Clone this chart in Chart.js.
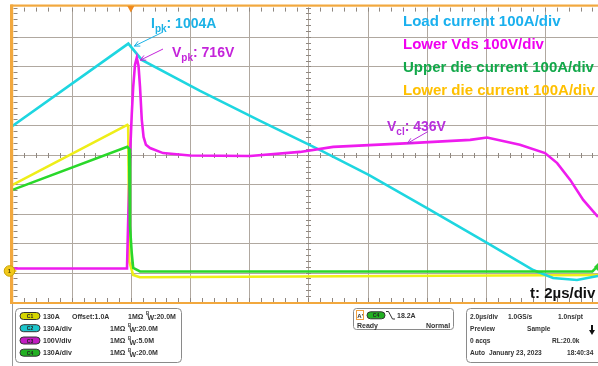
<!DOCTYPE html>
<html><head><meta charset="utf-8">
<script src="https://cdn.jsdelivr.net/npm/chart.js@4.4.0/dist/chart.umd.min.js"></script>
<style>html,body{margin:0;padding:0;background:#fff}canvas{display:block}</style>
</head><body>
<canvas id="c" width="598" height="366"></canvas>
<script>
// ---- Data (time in µs, currents in A, voltage in V) ----
const loadT  = [-4, -0.085, 0.37, 2.34, 4.37, 6.40, 8.04, 10.01, 12.04, 13.60, 14.27, 15.08, 15.79];
const loadI  = [640, 1004, 932, 795, 663, 534, 424, 278, 124, 4, -31, -40, -22];

const vdsT   = [-4, -0.13, -0.09, -0.02, 0.03, 0.08, 0.14, 0.20, 0.26, 0.31, 0.37, 0.43, 0.51, 0.65, 1.09, 2.0, 4.03, 5.72, 6.84, 9.44, 11.47, 12.04, 13.15, 14.0, 14.41, 14.85, 15.29, 15.79];
const vdsV   = [0, 0, 165, 403, 522, 617, 692, 716, 688, 617, 505, 447, 420, 409, 392, 384, 382, 396, 413, 426, 437, 445, 420, 392, 358, 301, 233, 175];

const upperT = [-4, -0.12, -0.06, -0.03, 0.03, 0.08, 0.31, 15.6, 15.79];
const upperI = [358, 548, 540, 200, 80, 13, -2, -2, 22];

const lowerT = [-4, -0.12, -0.09, -0.05, 0.08, 0.30, 15.79];
const lowerI = [380, 645, 640, 40, -18, -28, -18];

const seriesLabels = ['Load current 100A/div', 'Lower Vds 100V/div', 'Upper die current 100A/div', 'Lower die current 100A/div'];
const peakLabels = {ipk: '1004A', vpk: '716V', vcl: '436V'};
const timeBaseLabel = 't: 2µs/div';

const xTicks = [-4, -2, 0, 2, 4, 6, 8, 10, 12, 14, 16];
const iMin = -137, iPerDiv = 130;
const vMin = -113.8, vPerDiv = 100;

const pts = (t, v) => t.map((x, i) => ({x, y: v[i]}));

const FONT = '"Liberation Sans", Arial, sans-serif';
const ORANGE = '#F2A83E';
const GRID = '#B0A8A0';

function arrow(ctx, x1, y1, x2, y2, col) {
  ctx.save();
  ctx.strokeStyle = col; ctx.fillStyle = col; ctx.lineWidth = 1;
  ctx.beginPath(); ctx.moveTo(x1, y1); ctx.lineTo(x2, y2); ctx.stroke();
  const a = Math.atan2(y2 - y1, x2 - x1), L = 6, w = 0.45;
  ctx.beginPath();
  ctx.moveTo(x2, y2);
  ctx.lineTo(x2 - L * Math.cos(a - w), y2 - L * Math.sin(a - w));
  ctx.moveTo(x2, y2);
  ctx.lineTo(x2 - L * Math.cos(a + w), y2 - L * Math.sin(a + w));
  ctx.stroke();
  ctx.restore();
}

function subText(ctx, x, y, main, sub, rest, col, size) {
  ctx.save();
  ctx.fillStyle = col; ctx.textBaseline = 'alphabetic'; ctx.textAlign = 'left';
  ctx.font = 'bold ' + size + 'px ' + FONT;
  ctx.fillText(main, x, y);
  let w = ctx.measureText(main).width;
  ctx.font = 'bold ' + Math.round(size * 0.68) + 'px ' + FONT;
  ctx.fillText(sub, x + w, y + 4);
  w += ctx.measureText(sub).width;
  ctx.font = 'bold ' + size + 'px ' + FONT;
  ctx.fillText(rest, x + w, y);
  ctx.restore();
}

function rrect(ctx, x, y, w, h, r, stroke, fill) {
  ctx.beginPath();
  ctx.moveTo(x + r, y); ctx.lineTo(x + w - r, y); ctx.arcTo(x + w, y, x + w, y + r, r);
  ctx.lineTo(x + w, y + h - r); ctx.arcTo(x + w, y + h, x + w - r, y + h, r);
  ctx.lineTo(x + r, y + h); ctx.arcTo(x, y + h, x, y + h - r, r);
  ctx.lineTo(x, y + r); ctx.arcTo(x, y, x + r, y, r);
  ctx.closePath();
  if (fill) { ctx.fillStyle = fill; ctx.fill(); }
  if (stroke) { ctx.strokeStyle = stroke; ctx.lineWidth = 1; ctx.stroke(); }
}

function pill(ctx, x, cy, w, h, fill, label) {
  rrect(ctx, x, cy - h / 2, w, h, h / 2, '#333', fill);
  ctx.fillStyle = '#222'; ctx.font = 'bold 5px ' + FONT; ctx.textAlign = 'center';
  ctx.fillText(label, x + w / 2, cy + 2);
  ctx.textAlign = 'left';
}

const SMALL = 'bold 7px ' + FONT;
function bwText(ctx, x, y, val) {
  ctx.font = 'bold 4.5px ' + FONT; ctx.fillText('B', x, y - 3.5);
  ctx.font = SMALL; ctx.fillText('W', x + 1.5, y + 1.5);
  const w = ctx.measureText('W').width;
  ctx.fillText(':' + val, x + 1.5 + w, y);
}

const gratPlugin = {
  id: 'grat',
  beforeDatasetsDraw(chart) {
    const {ctx, chartArea: a} = chart;
    const xs = chart.scales.x, ys = chart.scales.yI;
    ctx.save();
    ctx.strokeStyle = GRID; ctx.lineWidth = 1;
    xTicks.forEach(t => {
      const px = Math.round(xs.getPixelForValue(t)) + 0.5;
      if (px > a.left + 2 && px < a.right) { ctx.beginPath(); ctx.moveTo(px, a.top); ctx.lineTo(px, a.bottom); ctx.stroke(); }
    });
    for (let k = 1; k < 10; k++) {
      const py = Math.round(ys.getPixelForValue(iMin + k * iPerDiv)) + 0.5;
      ctx.beginPath(); ctx.moveTo(a.left, py); ctx.lineTo(a.right, py); ctx.stroke();
    }
    // minor ticks on centre lines and borders
    ctx.strokeStyle = '#8F8780';
    const cy = Math.round(ys.getPixelForValue(iMin + 5 * iPerDiv)) + 0.5;
    const cx = Math.round(xs.getPixelForValue(6)) + 0.5;
    for (let t = -4; t <= 16; t += 0.4) {
      const px = Math.round(xs.getPixelForValue(t)) + 0.5;
      if (px <= a.left + 2 || px > a.right) continue;
      ctx.beginPath(); ctx.moveTo(px, cy - 2.5); ctx.lineTo(px, cy + 2.5); ctx.stroke();
      ctx.beginPath(); ctx.moveTo(px, a.top); ctx.lineTo(px, a.top + 4); ctx.stroke();
      ctx.beginPath(); ctx.moveTo(px, a.bottom - 4); ctx.lineTo(px, a.bottom); ctx.stroke();
    }
    for (let k = 0; k <= 50; k++) {
      const py = Math.round(ys.getPixelForValue(iMin + k * iPerDiv / 5)) + 0.5;
      ctx.beginPath(); ctx.moveTo(cx - 2.5, py); ctx.lineTo(cx + 2.5, py); ctx.stroke();
      ctx.beginPath(); ctx.moveTo(a.left + 1, py); ctx.lineTo(a.left + 5, py); ctx.stroke();
    }
    ctx.restore();
  },
  afterDatasetsDraw(chart) {
    const {ctx, chartArea: a} = chart;
    const xs = chart.scales.x, yI = chart.scales.yI, yV = chart.scales.yV;
    ctx.save();
    // borders
    ctx.fillStyle = ORANGE;
    ctx.fillRect(a.left - 2, 4.5, a.right - a.left + 2, 2.2);
    ctx.fillRect(a.left - 2, a.bottom, a.right - a.left + 2, 2);
    ctx.fillRect(a.left - 2.5, 4.5, 3.2, a.bottom - 2.5);
    ctx.strokeStyle = '#9A9A9A'; ctx.lineWidth = 1;
    ctx.beginPath(); ctx.moveTo(12.5, a.bottom + 2); ctx.lineTo(12.5, 366); ctx.stroke();
    // trigger position marker
    const tx = xs.getPixelForValue(0);
    ctx.fillStyle = '#F08A1E';
    ctx.beginPath(); ctx.moveTo(tx - 3.5, 6); ctx.lineTo(tx + 3.5, 6); ctx.lineTo(tx, 12.5); ctx.closePath(); ctx.fill();
    // channel 1 ground marker
    const gy = yI.getPixelForValue(0);
    ctx.fillStyle = '#F2C81A'; ctx.strokeStyle = '#C9A400';
    ctx.beginPath(); ctx.moveTo(13, gy - 2.5); ctx.lineTo(17, gy); ctx.lineTo(13, gy + 2.5); ctx.closePath(); ctx.fill();
    ctx.beginPath(); ctx.arc(9.5, gy, 5.3, 0, Math.PI * 2); ctx.fill(); ctx.stroke();
    ctx.fillStyle = '#5A4A00'; ctx.font = 'bold 6px ' + FONT; ctx.textAlign = 'center';
    ctx.fillText('1', 9.5, gy + 2.2); ctx.textAlign = 'left';
    // C4 trigger level marker at right edge
    ctx.fillStyle = '#2ECC2E';
    ctx.beginPath(); ctx.moveTo(598, gy - 8); ctx.lineTo(594, gy - 4); ctx.lineTo(598, gy); ctx.closePath(); ctx.fill();

    // annotations
    const pkX = xs.getPixelForValue(loadT[1]), pkY = yI.getPixelForValue(loadI[1]);
    subText(ctx, 151, 28, 'I', 'pk', ': ' + peakLabels.ipk, '#1CB2E6', 14);
    arrow(ctx, 163, 32, pkX + 6, pkY + 2.5, '#1CB2E6');
    const vpX = xs.getPixelForValue(vdsT[7]), vpY = yV.getPixelForValue(vdsV[7]);
    subText(ctx, 172, 56.5, 'V', 'pk', ': ' + peakLabels.vpk, '#C424DA', 14);
    arrow(ctx, 163, 49, vpX + 3.5, vpY + 2.5, '#C424DA');
    subText(ctx, 387, 131, 'V', 'cl', ': ' + peakLabels.vcl, '#B830DC', 14);
    arrow(ctx, 428, 131.5, xs.getPixelForValue(9.35), yV.getPixelForValue(427) + 0.5, '#B830DC');

    // legend text
    const legCols = ['#1AB0EE', '#F000F0', '#12A84A', '#FFC000'];
    const legY = [26, 49, 71.5, 95];
    ctx.font = 'bold 15px ' + FONT;
    seriesLabels.forEach((s, i) => { ctx.fillStyle = legCols[i]; ctx.fillText(s, 403, legY[i]); });
    ctx.fillStyle = '#111';
    ctx.fillText(timeBaseLabel, 530, 298);

    // ---- status panel ----
    ctx.font = SMALL; ctx.fillStyle = '#333';
    rrect(ctx, 15.5, 308.5, 166, 54, 4, '#8A8A8A', null);
    const rows = [316, 328.2, 340.5, 352.7];
    const pc = ['#D6D600', '#1CC6CC', '#C21CC2', '#22B022'];
    const cl = ['C1', 'C2', 'C3', 'C4'];
    const chTxt = ['130A', '130A/div', '100V/div', '130A/div'];
    const bw = ['20.0M', '20.0M', '5.0M', '20.0M'];
    rows.forEach((ry, i) => {
      pill(ctx, 20, ry, 20, 7, pc[i], cl[i]);
      ctx.fillStyle = '#333'; ctx.font = SMALL;
      ctx.fillText(chTxt[i], 43, ry + 2.5);
      const mx = i === 0 ? 128 : 110;
      ctx.fillText('1MΩ', mx, ry + 2.5);
      bwText(ctx, mx + 18, ry + 2.5, bw[i]);
    });
    ctx.font = SMALL;
    ctx.fillText('Offset:1.0A', 72, rows[0] + 2.5);

    rrect(ctx, 353.5, 308.5, 100, 21, 3, '#8A8A8A', null);
    ctx.strokeStyle = '#F0A040'; ctx.strokeRect(356.5, 310.5, 7, 9);
    ctx.fillStyle = '#333'; ctx.font = 'bold 6px ' + FONT; ctx.fillText("A'", 357.3, 317.5);
    pill(ctx, 367, 315.3, 18, 7, '#22B022', 'C4');
    ctx.strokeStyle = '#333'; ctx.lineWidth = 1;
    ctx.beginPath(); ctx.moveTo(386, 311.5); ctx.lineTo(388.5, 311.5); ctx.lineTo(392.5, 319); ctx.lineTo(395, 319); ctx.stroke();
    ctx.fillStyle = '#333'; ctx.font = SMALL;
    ctx.fillText('18.2A', 397, 318);
    ctx.fillText('Ready', 357, 327.5);
    ctx.fillText('Normal', 426, 327.5);

    rrect(ctx, 466.5, 308.5, 150, 54, 4, '#8A8A8A', null);
    const rr = [318.5, 330.7, 343, 355.3];
    ctx.fillStyle = '#333'; ctx.font = 'bold 6.6px ' + FONT;
    ctx.fillText('2.0µs/div', 470, rr[0]); ctx.fillText('1.0GS/s', 508, rr[0]); ctx.fillText('1.0ns/pt', 558, rr[0]);
    ctx.fillText('Preview', 470, rr[1]); ctx.fillText('Sample', 527, rr[1]);
    ctx.fillText('0 acqs', 470, rr[2]); ctx.fillText('RL:20.0k', 552, rr[2]);
    ctx.fillText('Auto', 470, rr[3]); ctx.fillText('January 23, 2023', 489, rr[3]); ctx.fillText('18:40:34', 567, rr[3]);
    // down arrow
    ctx.fillStyle = '#111';
    ctx.fillRect(591, 325, 2, 6);
    ctx.beginPath(); ctx.moveTo(589, 330); ctx.lineTo(595, 330); ctx.lineTo(592, 335); ctx.closePath(); ctx.fill();
    ctx.restore();
  }
};

new Chart(document.getElementById('c'), {
  type: 'scatter',
  data: {
    datasets: [
      {label: seriesLabels[2], data: pts(upperT, upperI), yAxisID: 'yI', borderColor: '#2AD82A', order: 1},
      {label: seriesLabels[1], data: pts(vdsT, vdsV), yAxisID: 'yV', borderColor: '#EE1CEE', order: 2},
      {label: seriesLabels[0], data: pts(loadT, loadI), yAxisID: 'yI', borderColor: '#1ED6E0', order: 3},
      {label: seriesLabels[3], data: pts(lowerT, lowerI), yAxisID: 'yI', borderColor: '#EEEE18', order: 4}
    ].map(d => Object.assign(d, {showLine: true, borderWidth: 2.6, pointRadius: 0, tension: 0, fill: false}))
  },
  options: {
    responsive: false, animation: false, devicePixelRatio: 1,
    layout: {padding: {left: 12.5, top: 7.6, right: 0, bottom: 64}},
    plugins: {legend: {display: false}, tooltip: {enabled: false}},
    scales: {
      x: {type: 'linear', display: false, min: -4, max: 15.79},
      yI: {type: 'linear', display: false, min: iMin, max: iMin + 10 * iPerDiv},
      yV: {type: 'linear', display: false, min: vMin, max: vMin + 10 * vPerDiv}
    }
  },
  plugins: [gratPlugin]
});
</script>
</body></html>
